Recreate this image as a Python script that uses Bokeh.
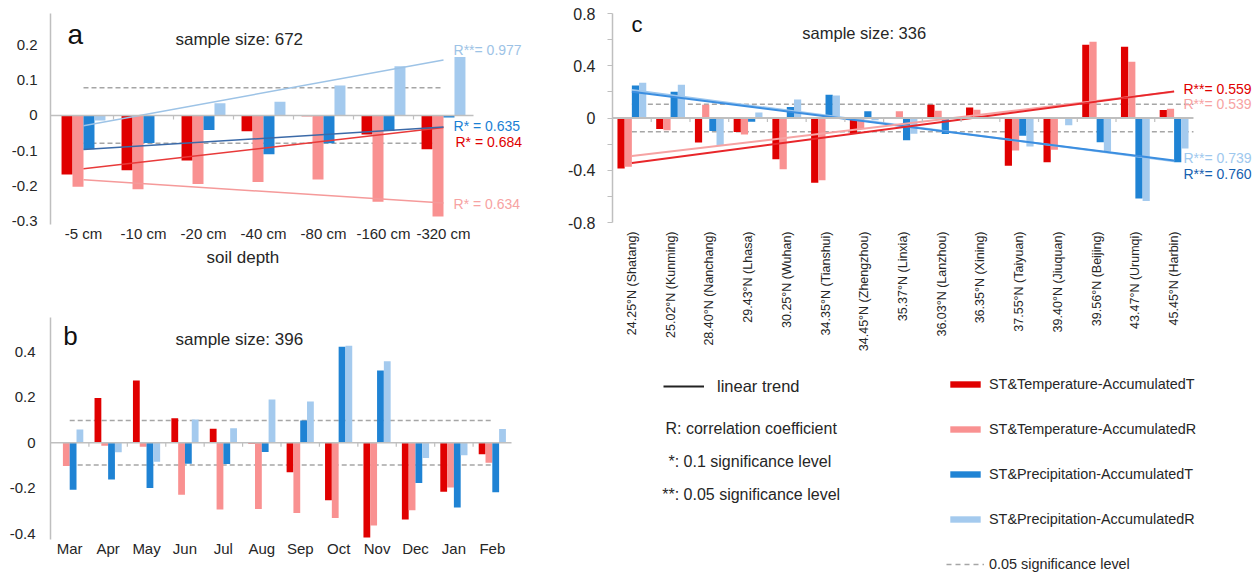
import math
import numpy as np
from bokeh.plotting import figure
from bokeh.models import (Range1d, FixedTicker, NumeralTickFormatter, Label, Legend,
                          LegendItem, Title)
from bokeh.layouts import row, column
from bokeh.embed import file_html
from bokeh.resources import INLINE

# ---------------- data ----------------
series_names = ["ST&Temperature-AccumulatedT", "ST&Temperature-AccumulatedR",
                "ST&Precipitation-AccumulatedT", "ST&Precipitation-AccumulatedR"]

depths = ["-5 cm", "-10 cm", "-20 cm", "-40 cm", "-80 cm", "-160 cm", "-320 cm"]
a_temp_T = [-0.168, -0.156, -0.128, -0.045, -0.002, -0.054, -0.096]
a_temp_R = [-0.203, -0.210, -0.195, -0.189, -0.182, -0.245, -0.287]
a_prec_T = [-0.096, -0.078, -0.041, -0.110, -0.079, -0.044, -0.006]
a_prec_R = [-0.014, -0.001, 0.035, 0.039, 0.085, 0.140, 0.166]
a_r_labels = ["R* = 0.684", "R* = 0.634", "R* = 0.635", "R**= 0.977"]
a_threshold = 0.079

months = ["Mar", "Apr", "May", "Jun", "Jul", "Aug", "Sep", "Oct", "Nov", "Dec", "Jan", "Feb"]
b_temp_T = [0.003, 0.197, 0.273, 0.107, 0.061, -0.003, -0.130, -0.253, -0.416, -0.337, -0.215, -0.051]
b_temp_R = [-0.102, -0.013, -0.018, -0.228, -0.293, -0.291, -0.309, -0.331, -0.364, -0.296, -0.197, -0.088]
b_prec_T = [-0.206, -0.162, -0.199, -0.092, -0.093, -0.041, 0.098, 0.422, 0.317, -0.177, -0.285, -0.218]
b_prec_R = [0.058, -0.042, -0.083, 0.102, 0.064, 0.190, 0.181, 0.426, 0.358, -0.067, -0.055, 0.060]
b_threshold = 0.098

stations = ["24.25°N (Shatang)", "25.02°N (Kunming)", "28.40°N (Nanchang)", "29.43°N (Lhasa)",
            "30.25°N (Wuhan)", "34.35°N (Tianshui)", "34.45°N (Zhengzhou)", "35.37°N (Linxia)",
            "36.03°N (Lanzhou)", "36.35°N (Xining)", "37.55°N (Taiyuan)", "39.40°N (Jiuquan)",
            "39.56°N (Beijing)", "43.47°N (Urumqi)", "45.45°N (Harbin)"]
c_temp_T = [-0.387, -0.084, -0.188, -0.107, -0.316, -0.496, -0.120, 0.003, 0.102, 0.081, -0.366, -0.338, 0.560, 0.545, 0.061]
c_temp_R = [-0.374, -0.094, 0.102, -0.127, -0.392, -0.476, -0.084, 0.051, 0.056, 0.064, -0.249, -0.244, 0.583, 0.430, 0.071]
c_prec_T = [0.249, 0.201, -0.099, -0.028, 0.084, 0.178, 0.051, -0.170, -0.122, 0.000, -0.135, -0.003, -0.186, -0.616, -0.338]
c_prec_R = [0.270, 0.254, -0.211, 0.043, 0.142, 0.173, -0.018, -0.120, -0.005, -0.008, -0.219, -0.056, -0.257, -0.636, -0.234]
c_r_labels = ["R**= 0.559", "R**= 0.539", "R**= 0.760", "R**= 0.739"]
c_threshold = 0.105

# ---------------- style ----------------
FONT = "Liberation Sans"
BAR_COLORS = ["#e00000", "#f99191", "#1f83d4", "#a4caee"]
GRAY = "#bfbfbf"
DASH_GRAY = "#a6a6a6"
TXT = "#262626"


def base_fig(cats, xr, yr, w, h, left, right, top, bottom):
    p = figure(width=w, height=h, x_range=Range1d(*xr), y_range=Range1d(*yr),
               output_backend="svg", toolbar_location=None,
               min_border_left=left, min_border_right=right, min_border_top=top,
               min_border_bottom=bottom)
    p.outline_line_color = None
    p.grid.visible = False
    xa = p.xaxis[0]
    centers = [i + 0.5 for i in range(len(cats))]
    xa.ticker = FixedTicker(ticks=centers)
    xa.major_label_overrides = {c: name for c, name in zip(centers, cats)}
    xa.axis_line_color = None
    xa.major_tick_line_color = None
    xa.major_tick_out = 0
    xa.major_tick_in = 0
    xa.minor_tick_line_color = None
    xa.minor_tick_out = 0
    xa.major_label_text_font = FONT
    xa.major_label_text_color = TXT
    ya = p.yaxis[0]
    ya.axis_line_color = GRAY
    ya.axis_line_width = 1.5
    ya.major_label_text_font = FONT
    ya.major_label_text_color = TXT
    ya.formatter = NumeralTickFormatter(format="0.[0]")
    return p


def draw_bars(p, vals, bw):
    for k, v in enumerate(vals):
        xs = [i + 0.5 + (k - 1.5) * bw for i in range(len(v))]
        p.vbar(x=xs, top=v, width=bw, fill_color=BAR_COLORS[k], line_color=None)


def zero_line(p, n, px_per_unit_y, lw=1.5):
    p.line(x=[p.x_range.start, n], y=[0, 0], line_color=GRAY, line_width=lw)
    b = list(range(1, n))
    p.segment(x0=b, y0=[0] * len(b), x1=b, y1=[-4.0 / px_per_unit_y] * len(b),
              line_color=GRAY, line_width=1.2)


def sig_lines(p, thr, x0, x1):
    for s in (thr, -thr):
        p.line(x=[x0, x1], y=[s, s], line_color=DASH_GRAY, line_width=1.5, line_dash="5 3")


def trend(p, vals, color, lw):
    xs = np.arange(len(vals)) + 0.5
    coef = np.polyfit(xs, np.asarray(vals, dtype=float), 1)
    ends = np.array([xs[0], xs[-1]])
    p.line(x=ends, y=np.polyval(coef, ends), line_color=color, line_width=lw)


def lab(p, x, y, text, size, color=TXT, baseline="middle", align="left"):
    p.add_layout(Label(x=x, y=y, text=text, text_font=FONT, text_font_size=size,
                       text_color=color, text_baseline=baseline, text_align=align))


# ---------------- panel a ----------------
pa = base_fig(depths, (-0.05, 7.95), (-0.31, 0.29), 530, 280, 50, 0, 13, 56)
pa.yaxis[0].ticker = FixedTicker(ticks=[-0.3, -0.2, -0.1, 0, 0.1, 0.2])
pa.yaxis[0].major_tick_line_color = None
pa.yaxis[0].major_tick_out = 0
pa.yaxis[0].minor_tick_line_color = None
pa.yaxis[0].major_label_standoff = 13
pa.yaxis[0].major_label_text_font_size = "15px"
pa.xaxis[0].major_label_standoff = 0
pa.xaxis[0].major_label_text_font_size = "15px"
pa.add_layout(Title(text="soil depth", align="left", offset=156, text_font=FONT,
                    text_font_size="17px", text_font_style="normal", text_color=TXT,
                    standoff=2), "below")
sig_lines(pa, a_threshold, 0.5, len(depths) - 0.5)
draw_bars(pa, [a_temp_T, a_temp_R, a_prec_T, a_prec_R], 0.183)
trend(pa, a_prec_R, "#9dc3e6", 1.5)
trend(pa, a_temp_R, "#f59a9a", 1.5)
trend(pa, a_temp_T, "#e83a3a", 1.5)
trend(pa, a_prec_T, "#3b6aa8", 1.5)
zero_line(pa, len(depths), 351.7)
lab(pa, 0.233, 0.231, "a", "28px", "#111111")
lab(pa, 2.033, 0.2147, "sample size: 672", "17px")
lab(pa, 6.667, 0.1876, a_r_labels[3], "14px", "#9dc3e6")
lab(pa, 6.667, -0.0313, a_r_labels[2], "14px", "#1a7fd4")
lab(pa, 6.70, -0.076, a_r_labels[0], "14px", "#e00000")
lab(pa, 6.667, -0.251, a_r_labels[1], "14px", "#f7a3a3")

# ---------------- panel b ----------------
pb = base_fig(months, (0, 12.494), (-0.425, 0.55), 530, 296, 50, 0, 37, 37)
pb.yaxis[0].ticker = FixedTicker(ticks=[-0.4, -0.2, 0, 0.2, 0.4])
pb.yaxis[0].major_tick_line_color = None
pb.yaxis[0].major_tick_out = 0
pb.yaxis[0].minor_tick_line_color = None
pb.yaxis[0].major_label_standoff = 15
pb.yaxis[0].major_label_text_font_size = "15px"
pb.xaxis[0].major_label_standoff = 0
pb.xaxis[0].major_label_text_font_size = "15px"
sig_lines(pb, b_threshold, 0.5, len(months) - 0.5)
draw_bars(pb, [b_temp_T, b_temp_R, b_prec_T, b_prec_R], 0.177)
zero_line(pb, len(months), 227.7)
lab(pb, 0.33, 0.4666, "b", "26px", "#111111")
lab(pb, 3.254, 0.452, "sample size: 396", "17px")

# ---------------- panel c ----------------
pc = base_fig(stations, (0, 16.55), (-0.8, 0.8), 723, 372, 82, 0, 13, 150)
pc.yaxis[0].ticker = FixedTicker(ticks=[-0.8, -0.4, 0, 0.4, 0.8], minor_ticks=[-0.6, -0.2, 0.2, 0.6])
pc.yaxis[0].major_tick_line_color = GRAY
pc.yaxis[0].major_tick_in = 0
pc.yaxis[0].major_tick_out = 5
pc.yaxis[0].minor_tick_line_color = GRAY
pc.yaxis[0].minor_tick_in = 0
pc.yaxis[0].minor_tick_out = 5
pc.yaxis[0].major_label_standoff = 12
pc.yaxis[0].major_label_text_font_size = "16px"
pc.xaxis[0].major_label_orientation = math.pi / 2
pc.xaxis[0].major_label_standoff = 9
pc.xaxis[0].major_label_text_font_size = "12.5px"
sig_lines(pc, c_threshold, 0.5, len(stations))
draw_bars(pc, [c_temp_T, c_temp_R, c_prec_T, c_prec_R], 0.186)
trend(pc, c_prec_R, "#9cc6ee", 2)
trend(pc, c_prec_T, "#3b8ee0", 2)
trend(pc, c_temp_R, "#f6a3a3", 2)
trend(pc, c_temp_T, "#e8262a", 2)
zero_line(pc, len(stations), 130.6, 2)
lab(pc, 0.49, 0.715, "c", "22px", "#111111")
lab(pc, 4.90, 0.651, "sample size: 336", "16.5px")
lab(pc, 14.74, 0.2257, c_r_labels[0], "14px", "#e00000")
lab(pc, 14.74, 0.111, c_r_labels[1], "14px", "#f7a3a3")
lab(pc, 14.74, -0.3026, c_r_labels[3], "14px", "#9ec8ee")
lab(pc, 14.74, -0.425, c_r_labels[2], "14px", "#1560b0")

# ---------------- legend area (frame aligned with panel c) ----------------
pl = figure(width=723, height=204, x_range=Range1d(82, 723), y_range=Range1d(0, 204),
            x_axis_type=None, y_axis_type=None, output_backend="svg", toolbar_location=None,
            min_border_left=82, min_border_right=0, min_border_top=0, min_border_bottom=0)
pl.outline_line_color = None
pl.grid.visible = False

# legend-only renderers (no visible marks: zero-height bars / lines far outside the frame)
bar_items = []
for name, col in zip(series_names, BAR_COLORS):
    r = pl.vbar(x=[-1e4], top=[-1e4], bottom=[-1e4], width=1, fill_color=col, line_color=None)
    bar_items.append(LegendItem(label=name, renderers=[r]))
rd = pl.line(x=[-1e4, -9e3], y=[-1e4, -1e4], line_color=DASH_GRAY, line_width=1.5, line_dash="5 4")
bar_items.append(LegendItem(label="0.05 significance level", renderers=[rd]))
leg = Legend(items=bar_items, location=(334, 2), orientation="vertical",
             glyph_width=38, glyph_height=8, label_height=20, spacing=25, padding=0, margin=0,
             label_standoff=5, border_line_color=None, background_fill_alpha=0,
             label_text_font=FONT, label_text_font_size="14.4px", label_text_color=TXT)
pl.add_layout(leg)

rl = pl.line(x=[-1e4, -9e3], y=[-1e4, -1e4], line_color="#222222", line_width=2)
leg2 = Legend(items=[LegendItem(label="linear trend", renderers=[rl])], location=(51, 180),
              glyph_width=41, glyph_height=20, label_height=20, padding=0, margin=0,
              label_standoff=13, border_line_color=None, background_fill_alpha=0,
              label_text_font=FONT, label_text_font_size="16.5px", label_text_color=TXT)
pl.add_layout(leg2)
lab(pl, 135, 148.3, "R: correlation coefficient", "16px")
lab(pl, 138, 115, "*: 0.1 significance level", "16px")
lab(pl, 131.7, 81.7, "**: 0.05 significance level", "16px")

layout = row(column(pa, pb), column(pc, pl))
open("out.html", "w").write(file_html(layout, INLINE))
